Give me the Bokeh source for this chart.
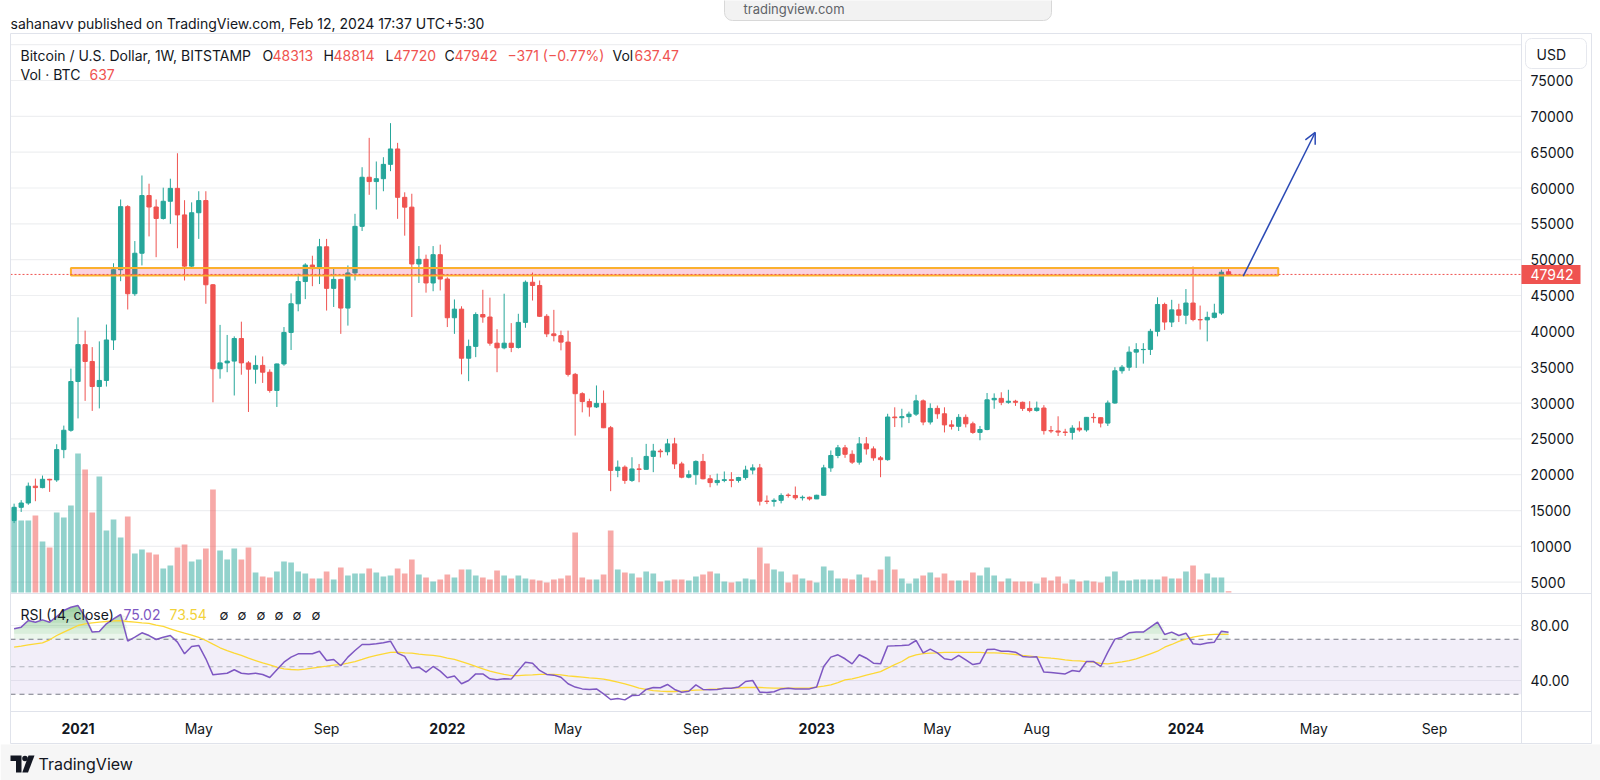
import numpy as np
import pandas as pd
from bokeh.plotting import figure
from bokeh.models import Range1d, Arrow, OpenHead, ColumnDataSource
from bokeh.core.properties import value
from bokeh.embed import file_html
from bokeh.resources import INLINE

# ---------------- data (weekly BTC/USD, Bitstamp) ----------------
FIRST_WEEK = "2020-11-02"
opens = [
    13600, 15450, 16050, 18400, 18200, 19360, 19270, 23500, 26200, 33000,
    38150, 35800, 32300, 33150, 38800, 48600, 57400, 45250, 50900, 58950,
    57350, 55750, 58150, 59950, 56250, 49100, 56550, 58250, 46500, 34780,
    35600, 35850, 39000, 35600, 34720, 35250, 34300, 31750, 35450, 39850,
    43850, 46950, 49250, 48750, 51800, 46000, 47250, 43250, 48150, 54650,
    61500, 60900, 61300, 63300, 65450, 58700, 57330, 49400, 50050, 46750,
    50700, 47300, 41900, 43100, 36250, 37900, 42350, 42000, 38350, 37700,
    38350, 37750, 41250, 46850, 46400, 42100, 39650, 39400, 38500, 34000,
    31300, 30200, 29450, 29950, 26550, 20600, 21050, 19200, 20800, 20750,
    22550, 23300, 23200, 24300, 21500, 19650, 20000, 21850, 19430, 18900,
    19200, 19300, 19200, 19600, 20650, 20950, 16300, 16280, 16420, 17150,
    17100, 16780, 16850, 16620, 17130, 20950, 22680, 23750, 22850, 21750,
    24300, 23600, 22350, 22100, 28050, 27950, 28100, 28450, 30300, 27350,
    29250, 28500, 26950, 26750, 28000, 27100, 25900, 26300, 30450, 30650,
    30100, 30250, 30100, 29250, 28950, 29300, 26150, 26100, 25950, 25900,
    26500, 26250, 28000, 27950, 27200, 30000, 34500, 35000, 37100, 37450,
    37480, 40000, 43750, 41300, 43000, 42250, 43950, 41650, 41600, 41950,
    42550, 48313]
highs = [
    15960, 16450, 18900, 19450, 19880, 19420, 24250, 26850, 34800, 41950,
    40100, 37800, 38600, 40950, 49500, 58400, 57600, 52600, 61750, 60600,
    58400, 60050, 61300, 64850, 58300, 58000, 59550, 59550, 46600, 40900,
    39500, 39300, 41350, 35850, 36630, 36500, 34700, 35500, 40600, 45300,
    48050, 49500, 50550, 52900, 52900, 48800, 47350, 49200, 56400, 62900,
    67000, 63700, 64300, 69050, 66300, 59400, 59200, 51900, 50700, 51900,
    52100, 47550, 44450, 43500, 38850, 42650, 45800, 44700, 40300, 45250,
    41150, 42450, 47100, 48200, 47100, 42400, 43000, 40100, 40100, 34200,
    31500, 30600, 32450, 31750, 26800, 21980, 21300, 22440, 21500, 24300,
    24300, 23600, 25000, 25150, 21800, 20600, 22000, 22900, 19950, 20150,
    20450, 20350, 19700, 21250, 21450, 21500, 17100, 16700, 17400, 17400,
    18350, 17100, 16950, 17200, 21380, 23380, 24150, 24150, 23400, 25250,
    25250, 23950, 22600, 28500, 29400, 29200, 28800, 31150, 30500, 29950,
    29650, 29400, 27600, 28450, 28400, 27400, 26800, 31400, 31350, 31500,
    31850, 30450, 30200, 30250, 30200, 29700, 26800, 28150, 26400, 26900,
    27450, 28050, 28600, 28000, 30350, 35000, 35300, 37900, 38350, 38350,
    40350, 44750, 44000, 44400, 43850, 45900, 49050, 43600, 42750, 43850,
    48600, 48814]
lows = [
    13250, 14800, 15800, 16300, 18100, 17600, 19000, 22300, 26000, 27850,
    30300, 28900, 29250, 32300, 37400, 47000, 43050, 44950, 49200, 53250,
    50350, 55600, 55000, 51600, 47100, 48800, 52900, 43850, 30100, 33400,
    34300, 31050, 33950, 28750, 32700, 32800, 31450, 29450, 35200, 37400,
    42800, 44500, 46300, 46600, 42900, 43400, 39650, 40800, 47100, 54000,
    59050, 57000, 59550, 62350, 55700, 53350, 42000, 46750, 45400, 45600,
    45700, 40600, 39650, 34000, 33050, 36400, 41200, 38000, 34300, 37500,
    37100, 37600, 40500, 44300, 42000, 39200, 38600, 37350, 33700, 25450,
    28700, 28100, 29300, 26500, 17700, 19650, 18730, 19000, 18950, 20750,
    20350, 22400, 22700, 20800, 19500, 19500, 18600, 19350, 18250, 18500,
    18950, 18250, 18900, 19300, 20050, 15700, 15900, 15550, 16000, 16800,
    16500, 16400, 16400, 16600, 17100, 20400, 22300, 22350, 21500, 21400,
    22800, 21950, 19650, 21950, 26650, 26600, 27200, 28200, 26900, 27000,
    27800, 25900, 26300, 26100, 26600, 25700, 24800, 26200, 29200, 29700,
    29900, 29600, 28900, 28700, 28800, 25600, 25800, 25400, 25400, 24900,
    26000, 26000, 27250, 26600, 26800, 29900, 34100, 34500, 34900, 35500,
    36700, 39300, 40200, 40600, 41300, 41000, 41400, 40250, 38600, 41800,
    42300, 47720]
closes = [
    15450, 16050, 18400, 18200, 19360, 19270, 23500, 26200, 33000, 38150,
    35800, 32300, 33150, 38800, 48600, 57400, 45250, 50900, 58950, 57350,
    55750, 58150, 59950, 56250, 49100, 56550, 58250, 46500, 34780, 35600,
    35850, 39000, 35600, 34720, 35250, 34300, 31750, 35450, 39850, 43850,
    46950, 49250, 48750, 51800, 46000, 47250, 43250, 48150, 54650, 61500,
    60900, 61300, 63300, 65450, 58700, 57330, 49400, 50050, 46750, 50700,
    47300, 41900, 43100, 36250, 37900, 42350, 42000, 38350, 37700, 38350,
    37750, 41250, 46850, 46400, 42100, 39650, 39400, 38500, 34000, 31300,
    30200, 29450, 29950, 26550, 20600, 21050, 19200, 20800, 20750, 22550,
    23300, 23200, 24300, 21500, 19650, 20000, 21850, 19430, 18900, 19200,
    19300, 19200, 19600, 20650, 20950, 16300, 16280, 16420, 17100, 17100,
    16780, 16850, 16620, 17130, 20950, 22680, 23750, 22850, 21750, 24300,
    23600, 22350, 22100, 28050, 27950, 28100, 28450, 30300, 27350, 29250,
    28500, 26950, 26750, 28000, 27100, 25900, 26300, 30450, 30650, 30100,
    30250, 30100, 29250, 28950, 29300, 26150, 26100, 25950, 25900, 26500,
    26250, 28000, 27950, 27200, 30000, 34500, 35000, 37100, 37450, 37480,
    40000, 43750, 41300, 43000, 42250, 43950, 41650, 41600, 41950, 42550,
    48250, 47942]
volumes = [  # BTC per week
    36000, 36000, 36000, 38500, 25500, 22500, 40000, 37500, 43500, 69500,
    61500, 40000, 58000, 31000, 36500, 27500, 38000, 19500, 21500, 20000,
    19000, 12000, 13500, 22500, 24000, 15500, 16500, 22000, 51500, 21000,
    16500, 22000, 16500, 22500, 10000, 8000, 7500, 10500, 15500, 15000,
    10500, 9500, 7000, 7000, 10500, 6500, 12500, 8500, 9500, 9500,
    12000, 10000, 8000, 8500, 12000, 9500, 16500, 9000, 7500, 5500,
    6500, 9000, 7500, 11500, 11500, 8500, 7500, 6500, 11000, 8500,
    7000, 8500, 7000, 6500, 6000, 5000, 6500, 7000, 8500, 30000,
    7500, 6500, 6500, 9000, 31000, 11500, 10000, 9500, 7500, 10500,
    9500, 5500, 6000, 6500, 6500, 6000, 8000, 9000, 10500, 9500,
    5500, 5000, 5500, 7000, 6500, 22500, 14500, 11500, 10500, 5000,
    9000, 7000, 6000, 5000, 13000, 11000, 7000, 7000, 6500, 9000,
    7500, 6000, 11500, 18000, 11500, 7000, 4500, 7000, 8500, 10000,
    7500, 9500, 6000, 6000, 6000, 10000, 8500, 12500, 8500, 5500,
    7000, 5500, 5500, 5500, 4500, 7500, 6000, 8000, 4500, 6500,
    5500, 6000, 5500, 5000, 8000, 10500, 6000, 6000, 6500, 6500,
    6500, 6500, 8000, 7000, 7000, 10500, 13500, 6500, 9500, 7500,
    7500, 637.47]
rsi = [
    77.6, 78.8, 83.6, 82.4, 84.1, 82.4, 86.5, 90.9, 93.3, 94.5,
    86.1, 75.2, 75.6, 81.2, 84.8, 88.0, 68.6, 71.5, 74.7, 72.7,
    69.8, 71.5, 72.7, 67.9, 59.4, 64.7, 65.5, 55.8, 44.1, 44.8,
    45.3, 47.8, 45.3, 44.8, 45.3, 44.4, 42.2, 47.8, 53.3, 57.0,
    59.4, 59.4, 59.4, 61.3, 54.5, 55.3, 50.7, 57.0, 61.8, 66.2,
    66.2, 66.7, 67.4, 68.6, 59.9, 57.5, 49.0, 49.7, 46.1, 50.2,
    46.8, 42.0, 43.2, 37.6, 40.0, 44.8, 44.8, 41.2, 40.5, 41.2,
    41.0, 47.3, 53.3, 52.6, 47.3, 44.4, 43.9, 42.4, 37.6, 35.2,
    33.9, 33.5, 33.9, 30.3, 26.2, 26.9, 25.9, 29.1, 29.3, 33.5,
    34.9, 34.7, 37.1, 33.5, 31.5, 32.2, 36.8, 33.5, 33.2, 33.5,
    34.4, 34.4, 35.2, 39.3, 40.0, 31.5, 31.3, 31.8, 33.9, 34.4,
    33.9, 33.9, 33.9, 35.2, 50.2, 57.0, 58.7, 55.8, 52.1, 58.7,
    56.2, 52.6, 52.1, 65.0, 65.2, 65.5, 65.9, 69.1, 60.1, 62.8,
    60.1, 55.8, 55.0, 58.2, 55.0, 51.6, 52.6, 62.5, 62.8, 61.3,
    61.3, 60.6, 57.5, 57.0, 57.2, 46.1, 45.8, 45.3, 44.8, 47.3,
    46.5, 53.8, 53.8, 50.2, 60.6, 70.1, 71.5, 74.7, 75.2, 75.2,
    78.8, 82.4, 73.5, 75.2, 72.7, 74.4, 66.7, 66.2, 67.2, 67.9,
    75.9, 75.02]
rsi_ma = [
    64.2, 65.0, 65.9, 66.7, 67.4, 69.6, 72.7, 75.2, 77.6, 80.0,
    81.2, 81.9, 82.4, 82.9, 83.4, 83.6, 82.9, 82.4, 81.9, 81.5,
    80.2, 79.3, 77.6, 75.9, 74.4, 73.0, 71.3, 69.1, 66.4, 63.8,
    61.8, 59.9, 58.2, 56.2, 54.5, 52.8, 51.4, 49.7, 48.5, 48.0,
    47.8, 48.2, 49.0, 49.7, 50.4, 51.2, 51.6, 52.6, 53.8, 55.3,
    57.0, 58.2, 59.4, 60.4, 60.6, 60.1, 59.9, 59.2, 58.7, 58.2,
    57.5, 56.2, 55.3, 53.8, 52.1, 50.2, 48.5, 46.8, 45.6, 44.4,
    43.6, 43.6, 43.9, 44.1, 44.4, 44.4, 44.4, 44.1, 43.4, 42.9,
    42.4, 41.9, 41.5, 41.0, 40.0, 38.8, 37.6, 36.1, 34.4, 33.5,
    32.7, 32.2, 32.0, 32.0, 32.2, 32.7, 33.0, 33.2, 33.7, 33.9,
    34.2, 34.4, 34.7, 34.9, 34.9, 34.9, 34.7, 34.4, 34.4, 34.4,
    34.4, 34.4, 34.7, 35.2, 35.9, 36.8, 38.5, 40.5, 41.2, 42.4,
    43.9, 45.1, 46.5, 49.0, 51.6, 53.8, 57.0, 58.7, 59.6, 59.9,
    60.1, 60.4, 60.4, 60.4, 60.4, 60.4, 60.4, 60.1, 60.1, 59.9,
    59.4, 58.9, 58.2, 57.7, 57.2, 56.7, 56.2, 55.8, 55.0, 54.5,
    54.3, 53.8, 53.3, 52.4, 52.1, 52.8, 53.6, 54.5, 55.8, 57.5,
    59.4, 61.3, 64.2, 66.2, 68.4, 70.1, 71.5, 72.5, 73.2, 73.5,
    73.5, 73.54]

price_ticks = [5000, 10000, 15000, 20000, 25000, 30000, 35000, 40000,
               45000, 50000, 55000, 60000, 65000, 70000, 75000]
price_grid = price_ticks + [80000]
rsi_ticks = [80, 40]
rsi_levels = [70, 50, 30]
time_ticks = ["2021-01-04", "2021-05-03", "2021-09-06", "2022-01-03", "2022-05-02",
              "2022-09-05", "2023-01-02", "2023-05-01", "2023-08-07", "2024-01-01",
              "2024-05-06", "2024-09-02"]
time_labels = ["2021", "May", "Sep", "2022", "May", "Sep", "2023", "May", "Aug",
               "2024", "May", "Sep"]
zone_dates = ["2020-12-28", "2024-04-01"]
zone_prices = [47800, 48850]
arrow_from = ("2024-02-26 12:00", 47700)
arrow_to = ("2024-05-07 10:00", 67750)

n = len(closes)
for arr in (opens, highs, lows, volumes, rsi, rsi_ma):
    assert len(arr) == n, len(arr)

# ---------------- layout / scale constants ----------------
W, H = 1600, 780
X0, X1, XR = 10, 1521, 1591
Y_TOP, Y_SEP, Y_RSI_BOT, Y_BOT = 33, 593, 711, 743
WEEK_MS = 7 * 24 * 3600 * 1000
PX_FIRST, PX_WEEK = 13.6, 7.102
P_REF, P_REF_Y, P_K = 5000, 581.7, 0.007167     # price -> pixel
V_BASE_Y, V_PER_PX = 592.0, 500.0                # volume -> pixel
R_REF, R_REF_Y, R_K = 80, 625.0, 1.375           # rsi -> pixel

def ms(s):
    return pd.Timestamp(s).value / 1e6

t0 = ms(FIRST_WEEK)
dates = pd.date_range(FIRST_WEEK, periods=n, freq="7D")
x_ms = dates.values.astype("datetime64[ms]").astype("int64").astype(float)

RED, GREEN = "#ef5350", "#26a69a"
TXT = "#131722"
FONT = value("Inter")
BORDER = "#e0e3eb"

p = figure(width=W, height=H, x_range=Range1d(0, W), y_range=Range1d(H, 0),
           output_backend="svg", toolbar_location=None, min_border=0,
           x_axis_location=None, y_axis_location=None, outline_line_color=None,
           background_fill_color="white", border_fill_color="white")
p.grid.visible = False
p.extra_x_ranges = {"date": Range1d(t0 + (0 - PX_FIRST) / PX_WEEK * WEEK_MS,
                                    t0 + (W - PX_FIRST) / PX_WEEK * WEEK_MS)}
p.extra_y_ranges = {
    "price": Range1d(P_REF - (H - P_REF_Y) / P_K, P_REF + P_REF_Y / P_K),
    "vol": Range1d(-(H - V_BASE_Y) * V_PER_PX, V_BASE_Y * V_PER_PX),
    "rsi": Range1d(R_REF - (H - R_REF_Y) / R_K, R_REF + R_REF_Y / R_K),
}

# footer background
p.quad(left=[0], right=[W], top=[Y_BOT + 1], bottom=[H], fill_color="#f6f6f6", line_color=None)

# price grid
k = len(price_grid)
p.segment(x0=[X0] * k, x1=[X1] * k, y0=price_grid, y1=price_grid, y_range_name="price",
          line_color="#eeeff1", line_width=1.2)
# rsi pane
p.segment(x0=[X0] * 2, x1=[X1] * 2, y0=rsi_ticks, y1=rsi_ticks, y_range_name="rsi",
          line_color="#eeeff1", line_width=1.2)
p.quad(left=[X0], right=[X1], bottom=[30], top=[70], y_range_name="rsi",
       fill_color="#7e57c2", fill_alpha=0.1, line_color=None)
p.segment(x0=[X0] * 3, x1=[X1] * 3, y0=rsi_levels, y1=rsi_levels, y_range_name="rsi",
          line_color=["#787b86", "#b2b5be", "#787b86"], line_dash="5 4", line_width=1.2)

# candles + volume
o = np.array(opens, float); c = np.array(closes, float)
colors = [GREEN if cc >= oo else RED for oo, cc in zip(o, c)]
src = ColumnDataSource(dict(x=x_ms, high=highs, low=lows, top=np.maximum(o, c),
                            bottom=np.minimum(o, c), color=colors, vol=volumes))
p.vbar(x="x", width=0.8 * WEEK_MS, top="vol", bottom=0, source=src, fill_color="color",
       fill_alpha=0.5, line_color=None, x_range_name="date", y_range_name="vol")
p.segment(x0="x", y0="low", x1="x", y1="high", source=src, line_color="color",
          line_width=1, x_range_name="date", y_range_name="price")
p.vbar(x="x", width=0.6 * WEEK_MS, top="top", bottom="bottom", source=src,
       fill_color="color", line_color="color", line_width=1,
       x_range_name="date", y_range_name="price")

# resistance zone
p.quad(left=[ms(zone_dates[0])], right=[ms(zone_dates[1])], bottom=[zone_prices[0]],
       top=[zone_prices[1]], x_range_name="date", y_range_name="price",
       fill_color="#e91e63", fill_alpha=0.2, line_color="#fbb02d", line_width=2)

# last price line
p.segment(x0=[X0], x1=[X1], y0=[closes[-1]], y1=[closes[-1]], y_range_name="price",
          line_color=RED, line_width=1, line_dash="2 2")

# arrow
p.add_layout(Arrow(x_start=ms(arrow_from[0]), y_start=arrow_from[1],
                   x_end=ms(arrow_to[0]), y_end=arrow_to[1],
                   x_range_name="date", y_range_name="price",
                   line_color="#2b4ab5", line_width=1.5,
                   end=OpenHead(size=11, line_color="#2b4ab5", line_width=1.5)))

# RSI gradient fill above 70
r = np.array(rsi)
for L in [70, 74, 78, 82, 86, 90]:
    p.varea(x=x_ms, y1=np.full(n, float(L)), y2=np.maximum(r, L), x_range_name="date",
            y_range_name="rsi", fill_color="#4caf50", fill_alpha=0.11)
p.line(x=x_ms, y=rsi_ma, x_range_name="date", y_range_name="rsi",
       line_color="#fdd835", line_width=1.3)
p.line(x=x_ms, y=rsi, x_range_name="date", y_range_name="rsi",
       line_color="#7e57c2", line_width=1.5)

# borders / separators
p.segment(x0=[X0, X0, X0, X0, X0, X1, XR], x1=[XR, XR, XR, XR, X0, X1, XR],
          y0=[Y_TOP, Y_SEP, Y_RSI_BOT, Y_BOT, Y_TOP, Y_TOP, Y_TOP],
          y1=[Y_TOP, Y_SEP, Y_RSI_BOT, Y_BOT, Y_BOT, Y_BOT, Y_BOT],
          line_color=BORDER, line_width=1)

# price axis labels
p.text(x=[1530] * len(price_ticks), y=price_ticks, text=[str(t) for t in price_ticks],
       y_range_name="price", text_font=FONT, text_font_size="14px", text_color=TXT,
       text_align="left", text_baseline="middle")
p.text(x=[1530] * 2, y=rsi_ticks, text=[f"{t:.2f}" for t in rsi_ticks],
       y_range_name="rsi", text_font=FONT, text_font_size="14px", text_color=TXT,
       text_align="left", text_baseline="middle")
# last price tag
p.rect(x=[1550.5], y=[closes[-1]], width=[59], height=[19], height_units="screen",
       y_range_name="price", fill_color=RED, line_color=None)
p.text(x=[1530], y=[closes[-1]], text=[f"{closes[-1]:.0f}"], y_range_name="price",
       text_font=FONT, text_font_size="14px", text_color="white",
       text_align="left", text_baseline="middle")
# USD button
p.quad(left=[1525], right=[1586], top=[38], bottom=[68], fill_color="white",
       line_color="#e6e8ee", line_width=1, border_radius=6)
p.text(x=[1536], y=[53.5], text=["USD"], text_font=FONT, text_font_size="14px",
       text_color=TXT, text_align="left", text_baseline="middle")

# time axis labels
tx = [ms(t) for t in time_ticks]
is_year = [lbl.isdigit() for lbl in time_labels]
p.text(x=[t for t, y in zip(tx, is_year) if y], y=[728] * sum(is_year),
       text=[l for l, y in zip(time_labels, is_year) if y], x_range_name="date",
       text_font=FONT, text_font_size="14px", text_font_style="bold", text_color=TXT,
       text_align="center", text_baseline="middle")
p.text(x=[t for t, y in zip(tx, is_year) if not y], y=[728] * (len(tx) - sum(is_year)),
       text=[l for l, y in zip(time_labels, is_year) if not y], x_range_name="date",
       text_font=FONT, text_font_size="14px", text_color=TXT,
       text_align="center", text_baseline="middle")

# header texts
def txt(x, y, s, color=TXT, size="14px", style="normal"):
    p.text(x=[x], y=[y], text=[s], text_font=FONT, text_font_size=size,
           text_font_style=style, text_color=color, text_align="left",
           text_baseline="middle")

txt(10, 23, "sahanavv published on TradingView.com, Feb 12, 2024 17:37 UTC+5:30")
chg = closes[-1] - opens[-1]
pct = chg / opens[-1] * 100
txt(20, 55, "Bitcoin / U.S. Dollar, 1W, BITSTAMP")
txt(262, 55, "O"); txt(272, 55, f"{opens[-1]}", RED)
txt(323, 55, "H"); txt(333, 55, f"{highs[-1]}", RED)
txt(385, 55, "L"); txt(393, 55, f"{lows[-1]}", RED)
txt(444, 55, "C"); txt(454, 55, f"{closes[-1]}", RED)
txt(507, 55, f"\u2212{abs(chg)} (\u2212{abs(pct):.2f}%)", RED)
txt(612, 55, "Vol"); txt(634, 55, f"{volumes[-1]:.2f}", RED)
txt(20, 74, "Vol \u00b7 BTC"); txt(89, 74, f"{volumes[-1]:.0f}", RED)

# RSI legend
txt(20, 614, "RSI (14, close)")
txt(123, 614, f"{rsi[-1]:.2f}", "#7e57c2")
txt(169, 614, f"{rsi_ma[-1]:.2f}", "#f2d23a")
for xx in [219, 237, 256, 274, 292, 311]:
    txt(xx, 614, "\u2205", TXT, "13px")

# browser tooltip at the top
p.quad(left=[724], right=[1051], top=[-12], bottom=[20], fill_color="#f2f2f2",
       line_color="#d8d8d8", line_width=1, border_radius=8)
txt(743, 8, "tradingview.com", "#5f6368", "13px")

# footer logo
p.patch(x=[10, 21, 21, 15.5, 15.5, 10], y=[755, 755, 772, 772, 760.5, 760.5], fill_color=TXT,
        line_color=None)
p.circle(x=[24.5], y=[758], radius=2.8, fill_color=TXT, line_color=None)
p.patch(x=[28, 34, 27.5, 21.8], y=[755, 755, 772, 772], fill_color=TXT, line_color=None)
txt(38, 763, "TradingView", TXT, "16px")

open("out.html", "w").write(file_html(p, INLINE))
